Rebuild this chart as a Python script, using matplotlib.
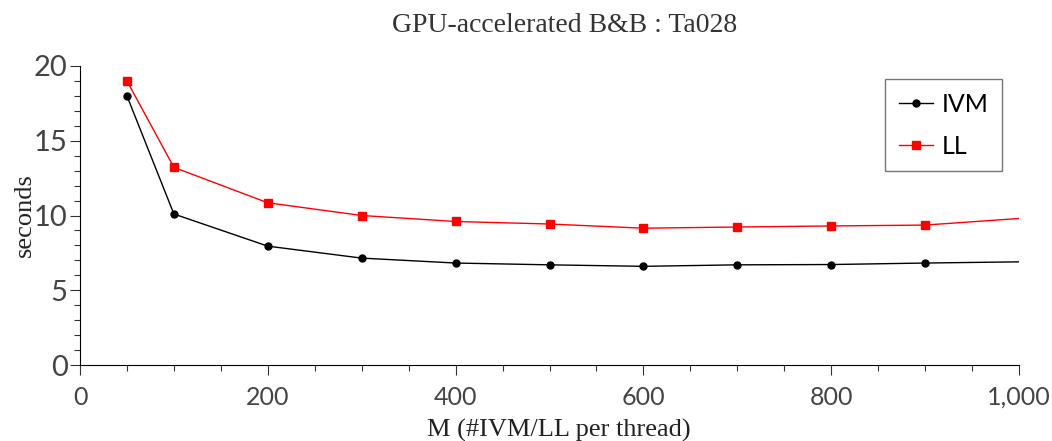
import matplotlib
matplotlib.use("Agg")
import matplotlib.pyplot as plt
from matplotlib.ticker import MultipleLocator, FuncFormatter

M = [50, 100, 200, 300, 400, 500, 600, 700, 800, 900, 1000]
ivm = [18.0, 10.1, 7.95, 7.15, 6.82, 6.7, 6.6, 6.7, 6.72, 6.82, 6.9]
ll = [19.0, 13.22, 10.85, 10.0, 9.6, 9.43, 9.15, 9.23, 9.3, 9.36, 9.8]

fig = plt.figure(figsize=(10.52, 4.41), dpi=100)
ax = fig.add_axes([80/1052, 1-365/441, 939/1052, 299/441])

mk = list(range(len(M) - 1))
ax.plot(M, ivm, color="black", lw=1.0, marker="o", ms=5, markevery=mk, label="IVM")
ax.plot(M, ll, color="red", lw=1.0, marker="s", ms=5.5, markevery=mk, label="LL")

ax.set_xlim(0, 1000)
ax.set_ylim(0, 20)
ax.spines["top"].set_visible(False)
ax.spines["right"].set_visible(False)
ax.xaxis.set_major_locator(MultipleLocator(200))
ax.xaxis.set_minor_locator(MultipleLocator(50))
ax.yaxis.set_major_locator(MultipleLocator(5))
ax.yaxis.set_minor_locator(MultipleLocator(1))
ax.xaxis.set_major_formatter(FuncFormatter(lambda v, p: f"{int(v):,}"))
ax.tick_params(which="major", length=7, width=0.8, color="#333333")
ax.tick_params(which="minor", length=4, width=0.8, color="#333333")
ax.tick_params(axis="y", labelsize=21, labelcolor="#444444", pad=2)
ax.tick_params(axis="x", labelsize=18, labelcolor="#444444", pad=8)
for lab in ax.get_xticklabels() + ax.get_yticklabels():
    lab.set_fontfamily("Lato")

fig.text(559/1052, 1-430/441, "M (#IVM/LL per thread)", family="Liberation Serif",
         fontsize=19, color="#222222", ha="center", va="center")
fig.text(25/1052, 1-215/441, "seconds", family="Liberation Serif", rotation=90,
         fontsize=19, color="#222222", ha="center", va="center")
fig.text(565/1052, 1-25/441, "GPU-accelerated B&B : Ta028", family="Liberation Serif",
         fontsize=20, color="#333333", ha="center", va="center")

leg = ax.legend(loc="upper left", bbox_to_anchor=((885-80)/939, (365-79)/299),
                prop={"family": "Lato", "size": 18}, fancybox=False, frameon=True,
                handlelength=1.35, borderpad=0.55, labelspacing=0.75, handletextpad=0.35,
                borderaxespad=0)
leg.get_frame().set_edgecolor("#555555")
leg.get_frame().set_linewidth(1.0)

fig.savefig("out.png", dpi=100)
